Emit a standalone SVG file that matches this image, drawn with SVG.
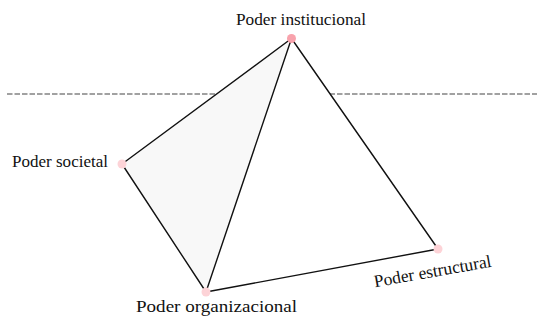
<svg xmlns="http://www.w3.org/2000/svg" width="537" height="320" viewBox="0 0 537 320">
<style>
.lbl{font-family:"Liberation Serif","DejaVu Serif",serif;font-size:17.5px;fill:#111}
.edge{stroke:#111;stroke-width:1.4;fill:none;stroke-linecap:round}
.dot{fill:#fdd3d7}
</style>
<rect width="537" height="320" fill="#fff"/>
<line x1="7" y1="94" x2="537" y2="94" stroke="#444" stroke-width="1.2" stroke-dasharray="5.5,2"/>
<polygon points="291.5,38.5 122,164 206,292 438,249" fill="#fff"/>
<polygon points="291.5,38.5 122,164 206,292" fill="#f8f8f8"/>
<g id="connectors">
<line class="edge" x1="291.5" y1="38.5" x2="122" y2="164"/>
<line class="edge" x1="122" y1="164" x2="206" y2="292"/>
<line class="edge" x1="291.5" y1="38.5" x2="206" y2="292"/>
<line class="edge" x1="291.5" y1="38.5" x2="438" y2="249"/>
<line class="edge" x1="206" y1="292" x2="438" y2="249"/>
</g>
<g id="institucional">
<circle cx="291.5" cy="38.5" r="4.5" fill="#f8a2ac"/>
<text class="lbl" x="301" y="25" text-anchor="middle" textLength="130" lengthAdjust="spacingAndGlyphs">Poder institucional</text>
</g>
<g id="societal">
<circle class="dot" cx="122" cy="164" r="4.5"/>
<text class="lbl" x="60" y="167" text-anchor="middle" textLength="96" lengthAdjust="spacingAndGlyphs">Poder societal</text>
</g>
<g id="organizacional">
<circle class="dot" cx="206" cy="292" r="4.5"/>
<text class="lbl" x="216.5" y="312" text-anchor="middle" textLength="161" lengthAdjust="spacingAndGlyphs">Poder organizacional</text>
</g>
<g id="estructural">
<circle class="dot" cx="438" cy="249" r="4.5"/>
<text class="lbl" x="0" y="0" text-anchor="middle" textLength="119" lengthAdjust="spacingAndGlyphs" transform="translate(433.5,277) rotate(-10)">Poder estructural</text>
</g>
</svg>
